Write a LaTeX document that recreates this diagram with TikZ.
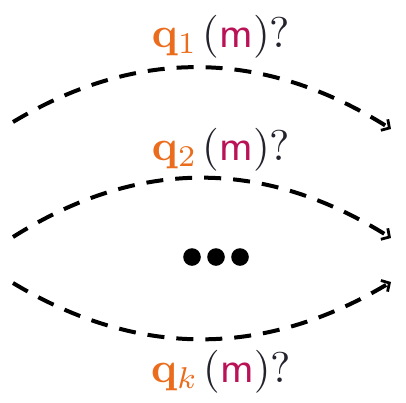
\documentclass[tikz,border=0pt]{standalone}
\usepackage{amsmath}
\usetikzlibrary{arrows.meta}
\definecolor{qorange}{RGB}{234,108,28}
\definecolor{mmag}{RGB}{186,18,86}
\definecolor{pdark}{RGB}{35,35,45}
\newcommand{\qlabel}[1]{\scalebox{4.3}{$\color{qorange}\mathbf{q}_{#1}\mskip2mu\color{pdark}(\color{mmag}\mathsf{m}\color{pdark})\text{?}$}}
\begin{document}
\begin{tikzpicture}[x=1pt,y=-1pt,
  flow/.style={line width=4pt,dash pattern=on 17pt off 12pt,-{Straight Barb[length=6pt,width=13pt,line width=2.8pt]}},
  lab/.style={inner sep=0pt,anchor=base}]
\useasboundingbox (0,0) rectangle (406,402);
\coordinate (s1) at (13,122);
\coordinate (e1) at (391,129);
\coordinate (s2) at (13,237);
\coordinate (e2) at (391,238);
\coordinate (s3) at (13,283);
\coordinate (e3) at (391,282);
\draw[flow] (s1) .. controls (138,47) and (264,49) .. (e1);
\draw[flow] (s2) .. controls (138,158) and (264,158) .. (e2);
\draw[flow] (s3) .. controls (138,358) and (264,358) .. (e3);
\node[lab] (l1) at (221,47) {\qlabel{1}};
\node[lab] (l2) at (221,160) {\qlabel{2}};
\node[lab] (l3) at (221,382) {\qlabel{k}};
\fill (192,257) circle (8.8) coordinate (d1);
\fill (216,257) circle (8.8) coordinate (d2);
\fill (240,257) circle (8.8) coordinate (d3);
\end{tikzpicture}
\end{document}
